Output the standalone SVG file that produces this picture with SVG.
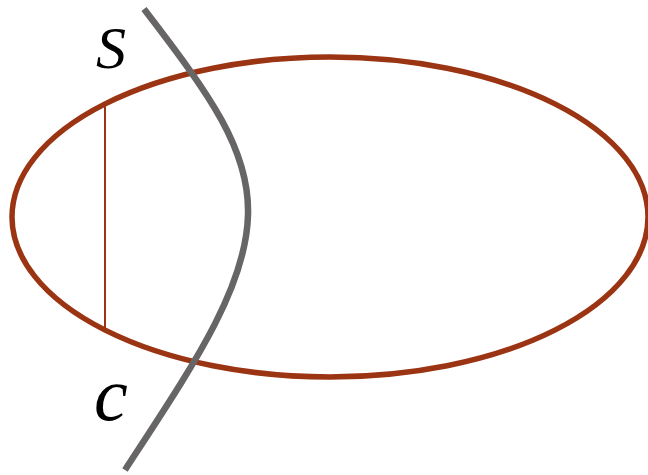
<svg xmlns="http://www.w3.org/2000/svg" width="648" height="475" viewBox="0 0 648 475">
<style>
.brown{fill:none;stroke:#9b3412}
.lbl{font-family:"Liberation Serif",serif;font-style:italic;fill:#000}
</style>
<rect width="648" height="475" fill="#fff"/>
<g id="ellipse"><ellipse class="brown" cx="330" cy="217" rx="318" ry="160" stroke-width="5.5"/></g>
<g id="chord"><line class="brown" x1="105" y1="103" x2="105" y2="328" stroke-width="2"/></g>
<g id="curve"><path d="M144,9 C210,95 250,150 248,215 C246,290 190,370 125,470" fill="none" stroke="#676565" stroke-width="6.5"/></g>
<g id="labels">
<text class="lbl" x="96" y="68" font-size="60">S</text>
<text class="lbl" x="94" y="420" font-size="76">c</text>
</g>
</svg>
